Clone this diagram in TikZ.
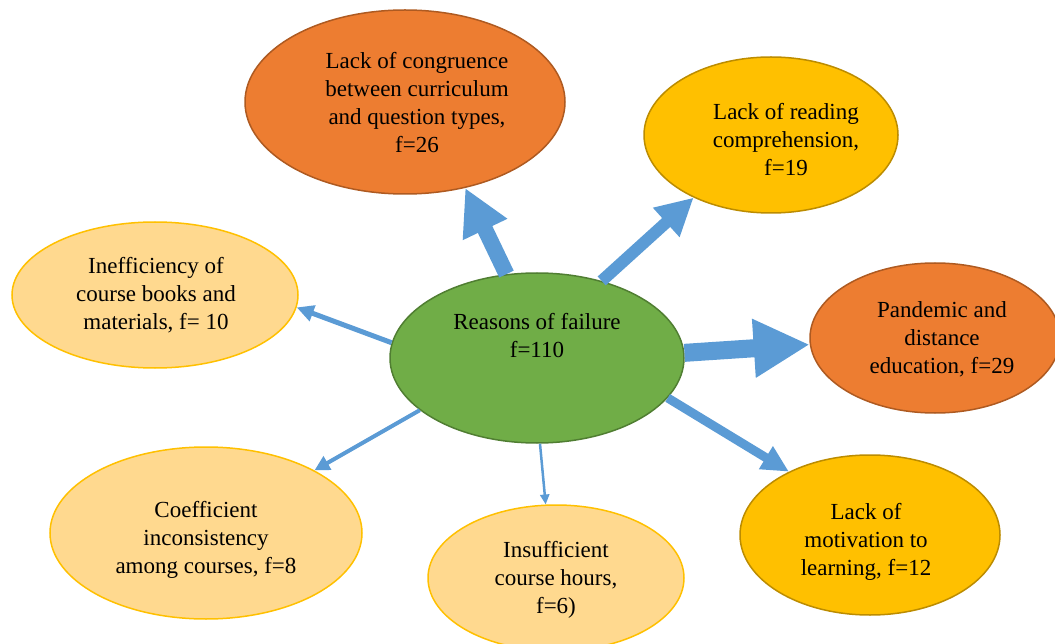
\documentclass[tikz,border=0pt]{standalone}
\usepackage{fontspec}
\setmainfont{Liberation Serif}
\usetikzlibrary{shapes.geometric,arrows.meta}
\definecolor{greenF}{HTML}{70AD47}
\definecolor{greenD}{HTML}{507E32}
\definecolor{orangeF}{HTML}{ED7D31}
\definecolor{orangeD}{HTML}{AE5A21}
\definecolor{goldF}{HTML}{FFC000}
\definecolor{goldD}{HTML}{BC8C00}
\definecolor{paleF}{HTML}{FFD98F}
\definecolor{arrowB}{HTML}{5B9BD5}
\begin{document}
\begin{tikzpicture}[x=1pt,y=-1pt,
  oval/.style={ellipse,draw,line width=1.5pt,inner sep=0pt},
  hot/.style={oval,fill=orangeF,draw=orangeD},
  warm/.style={oval,fill=goldF,draw=goldD},
  mild/.style={oval,fill=paleF,draw=goldF},
  txt/.style={align=center,font=\fontsize{23}{28}\selectfont},
  arr/.style n args={3}{draw=arrowB,line width=#1,-{Triangle[width=#2,length=#3]}}]
\useasboundingbox (0,0) rectangle (1055,644);
\node (R) [oval,fill=greenF,draw=greenD,minimum width=294pt,minimum height=170pt] at (537,358) {};
\node (C) [hot,minimum width=320pt,minimum height=184pt] at (405,102) {};
\node (P) [warm,minimum width=254pt,minimum height=156pt] at (771,135) {};
\node (D) [hot,minimum width=250pt,minimum height=150pt] at (935,338) {};
\node (M) [warm,minimum width=260pt,minimum height=160pt] at (870,535) {};
\node (H) [mild,minimum width=256pt,minimum height=146pt] at (556,578) {};
\node (K) [mild,minimum width=312pt,minimum height=172pt] at (206,533) {};
\node (B) [mild,minimum width=286pt,minimum height=146pt] at (155,295) {};

\node (Rt) [txt] at (537,336) {Reasons of failure\\f=110};
\node (Ct) [txt] at (417,103) {Lack of congruence\\between curriculum\\and question types,\\f=26};
\node (Pt) [txt] at (786,140) {Lack of reading\\comprehension,\\f=19};
\node (Dt) [txt] at (942,339) {Pandemic and\\distance\\education, f=29};
\node (Mt) [txt] at (866,542) {Lack of\\motivation to\\learning, f=12};
\node (Ht) [txt] at (556,580) {Insufficient\\course hours,\\f=6)};
\node (Kt) [txt] at (206,540) {Coefficient\\inconsistency\\among courses, f=8};
\node (Bt) [txt] at (156,295) {Inefficiency of\\course books and\\materials, f= 10};

\path (R.110) edge[arr={16pt}{46pt}{46pt}] (C.305);
\path (R.50) edge[arr={12pt}{37pt}{37pt}] (P.219);
\path (R.2) edge[arr={18pt}{55pt}{56pt}] (D.183);
\path (R.-17) edge[arr={9pt}{25pt}{27pt}] (M.142);
\path (R.174) edge[arr={5pt}{16pt}{17pt}] (B.-5);
\path (R.204) edge[arr={4pt}{15pt}{15pt}] (K.30);
\path (R.272) edge[arr={2.5pt}{9pt}{10pt}] (H.98);
\end{tikzpicture}
\end{document}
